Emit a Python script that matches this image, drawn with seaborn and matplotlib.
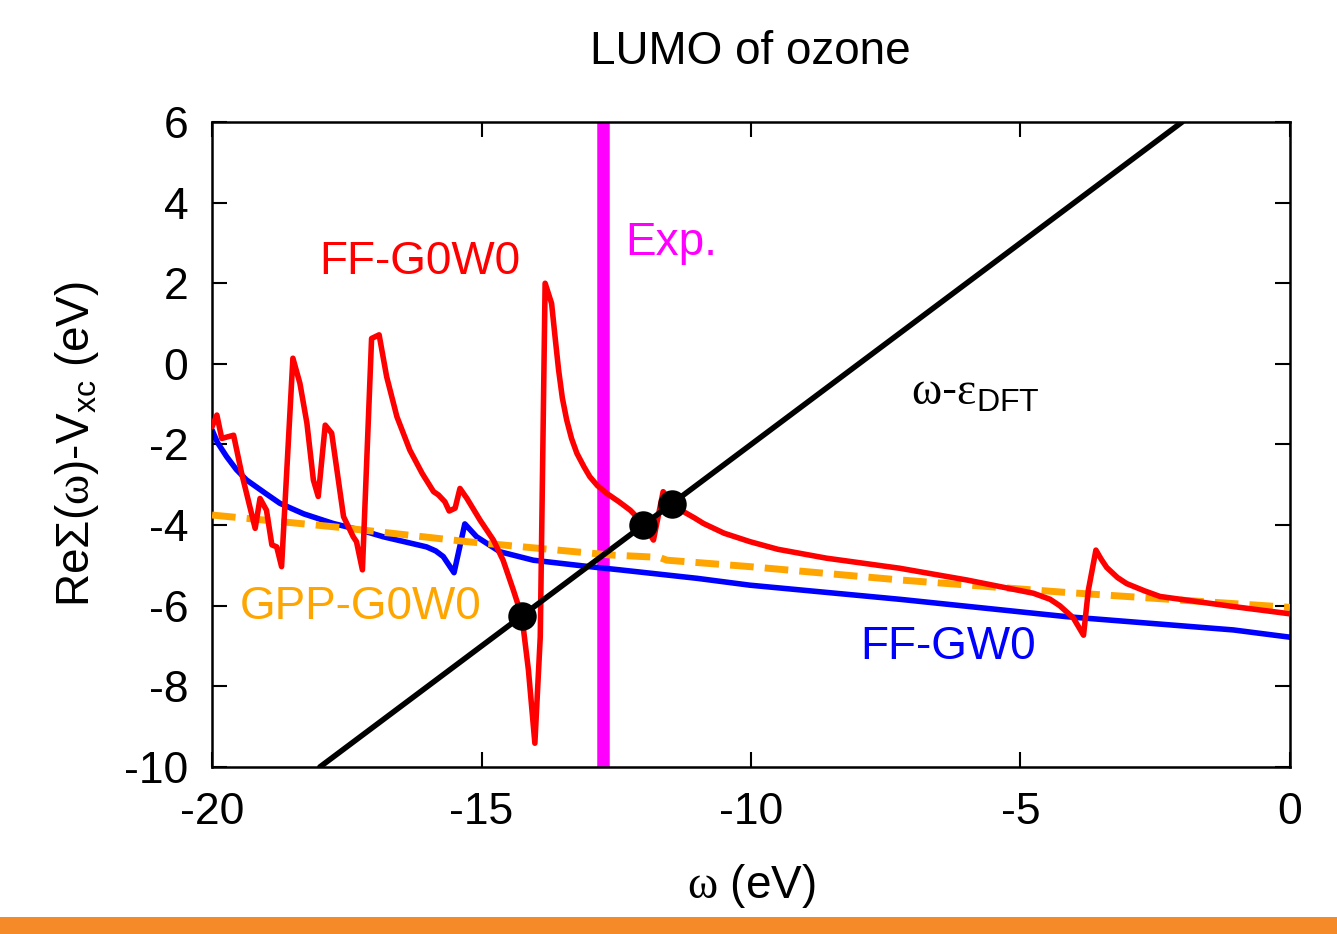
import matplotlib
matplotlib.use("Agg")
import matplotlib.pyplot as plt
import seaborn as sns
from matplotlib.patches import Rectangle

# ---------------- data ----------------
red_x = [-20.0, -19.91, -19.82, -19.6, -19.45, -19.2, -19.11, -18.99, -18.89, -18.8, -18.71,
         -18.5, -18.37, -18.24, -18.12, -18.03, -17.9, -17.78, -17.56, -17.38, -17.32, -17.21,
         -17.04, -16.9, -16.76, -16.57, -16.33, -16.1, -15.89, -15.8, -15.68, -15.6, -15.49,
         -15.4, -15.27, -15.03, -14.78, -14.6, -14.41, -14.25, -14.13, -14.01, -13.91, -13.82,
         -13.7, -13.63, -13.57, -13.5, -13.42, -13.33, -13.23, -13.1, -12.99, -12.85, -12.68,
         -12.45, -12.24, -12.0, -11.81, -11.63, -11.47, -11.26, -11.05, -10.88, -10.5, -10.02,
         -9.5, -8.6, -7.24, -6.0, -4.76, -4.45, -4.27, -4.02, -3.83, -3.74, -3.6, -3.5, -3.4,
         -3.2, -3.03, -2.7, -2.41, -1.05, 0.0]
red_y = [-1.56, -1.27, -1.85, -1.77, -2.72, -4.08, -3.34, -3.63, -4.49, -4.54, -5.03,
         0.14, -0.48, -1.47, -2.88, -3.29, -1.52, -1.72, -3.79, -4.29, -4.41, -5.11,
         0.63, 0.72, -0.32, -1.31, -2.14, -2.72, -3.17, -3.25, -3.42, -3.65, -3.58,
         -3.09, -3.34, -3.87, -4.37, -4.87, -5.61, -6.27, -7.59, -9.41, -6.77, 2.0,
         1.5, 0.6, -0.15, -0.85, -1.39, -1.85, -2.22, -2.55, -2.8, -3.02, -3.21,
         -3.42, -3.63, -3.96, -4.37, -3.17, -3.46, -3.66, -3.82, -3.96, -4.2, -4.41,
         -4.6, -4.82, -5.07, -5.36, -5.69, -5.84, -6.0, -6.3, -6.73, -5.61, -4.62, -4.85, -5.05,
         -5.3, -5.45, -5.63, -5.77, -6.02, -6.2]

blue_x = [-20.0, -19.9, -19.73, -19.55, -19.36, -19.0, -18.74, -18.3, -17.75, -17.2, -16.82,
          -16.02, -15.85, -15.71, -15.51, -15.31, -15.09, -14.66, -14.04, -13.0, -12.43,
          -11.0, -10.02, -7.24, -4.15, -1.05, 0.0]
blue_y = [-1.64, -1.95, -2.3, -2.62, -2.88, -3.22, -3.46, -3.72, -3.96, -4.14, -4.29,
          -4.54, -4.64, -4.78, -5.18, -3.97, -4.29, -4.66, -4.87, -5.03, -5.11,
          -5.32, -5.49, -5.84, -6.27, -6.6, -6.78]

gpp_x = [-20.0, -17.75, -15.27, -12.62, -11.7, -11.56, -10.02, -7.24, -4.15, 0.0]
gpp_y = [-3.75, -4.04, -4.41, -4.74, -4.8, -4.87, -5.03, -5.36, -5.67, -6.04]

line_x = [-18.0, -2.0]          # omega - eps_DFT
line_y = [-10.0, 6.0]

qp_x = [-14.25, -12.0, -11.47]  # graphical solutions
qp_y = [-6.25, -4.0, -3.47]

exp_x = -12.75                  # experiment

x_ticks = [-20, -15, -10, -5, 0]
y_ticks = [6, 4, 2, 0, -2, -4, -6, -8, -10]

# ---------------- style ----------------
sns.set_theme(style="white")
plt.rcParams['font.family'] = ['Liberation Sans', 'DejaVu Sans']
plt.rcParams['mathtext.fontset'] = 'custom'
plt.rcParams['mathtext.rm'] = 'Liberation Sans'
plt.rcParams['mathtext.it'] = 'Liberation Sans:italic'
plt.rcParams['mathtext.sf'] = 'Liberation Serif'
plt.rcParams['axes.unicode_minus'] = False
plt.rcParams['text.color'] = 'black'
plt.rcParams['axes.labelcolor'] = 'black'
plt.rcParams['xtick.color'] = 'black'
plt.rcParams['ytick.color'] = 'black'
FS_TICK = 32
FS = 33

fig = plt.figure(figsize=(13.37, 9.34), dpi=100)
ax = fig.add_axes([0.1586, 0.1788, 0.8062, 0.6906])

ax.axvline(exp_x, color='#FF00FF', lw=9, zorder=1)
sns.lineplot(x=blue_x, y=blue_y, ax=ax, color='#0000FF', lw=4, zorder=2)
sns.lineplot(x=gpp_x, y=gpp_y, ax=ax, color='#FFA500', lw=5, zorder=3)
ax.lines[-1].set_dashes((3.4, 1.6))
ax.lines[-1].set_dash_capstyle('butt')
sns.lineplot(x=red_x, y=red_y, ax=ax, color='#FF0000', lw=4, zorder=4)
sns.lineplot(x=line_x, y=line_y, ax=ax, color='black', lw=4, zorder=5)
sns.scatterplot(x=qp_x, y=qp_y, ax=ax, color='black', s=360, zorder=6, edgecolor='black')

ax.set_xlim(-20, 0)
ax.set_ylim(-10, 6)
ax.set_xticks(x_ticks)
ax.set_yticks(y_ticks)
ax.tick_params(direction='in', length=11, width=1.5, labelsize=FS_TICK,
               top=True, right=True, bottom=True, left=True)
ax.tick_params(axis='x', pad=18)
ax.tick_params(axis='y', pad=17)
for s in ax.spines.values():
    s.set_linewidth(1.8)
    s.set_color('black')

ax.set_xlabel('$\\mathsf{\\omega}$ (eV)', fontsize=FS, labelpad=21)
ax.set_ylabel('ReΣ($\\mathsf{\\omega}$)-V$_{\\rm xc}$ (eV)', fontsize=FS, labelpad=17)
fig.text(0.5615, 1 - 52 / 934, 'LUMO of ozone', fontsize=FS, ha='center', va='center')

ax.text(-16.14, 2.53, 'FF-G0W0', color='#FF0000', fontsize=FS, ha='center', va='center')
ax.text(-12.33, 3.0, 'Exp.', color='#FF00FF', fontsize=FS, ha='left', va='center')
ax.text(-7.04, -0.7, '$\\mathsf{\\omega}$-$\\mathsf{\\varepsilon}_{\\rm DFT}$', color='black',
        fontsize=FS, ha='left', va='center')
ax.text(-19.48, -6.03, 'GPP-G0W0', color='#FFA500', fontsize=FS, ha='left', va='center')
ax.text(-7.98, -7.02, 'FF-GW0', color='#0000FF', fontsize=FS, ha='left', va='center')

fig.patches.append(Rectangle((0, 0), 1, 17 / 934, transform=fig.transFigure,
                             facecolor='#F58A28', edgecolor='none', zorder=0))

fig.savefig('out.png', dpi=100)
